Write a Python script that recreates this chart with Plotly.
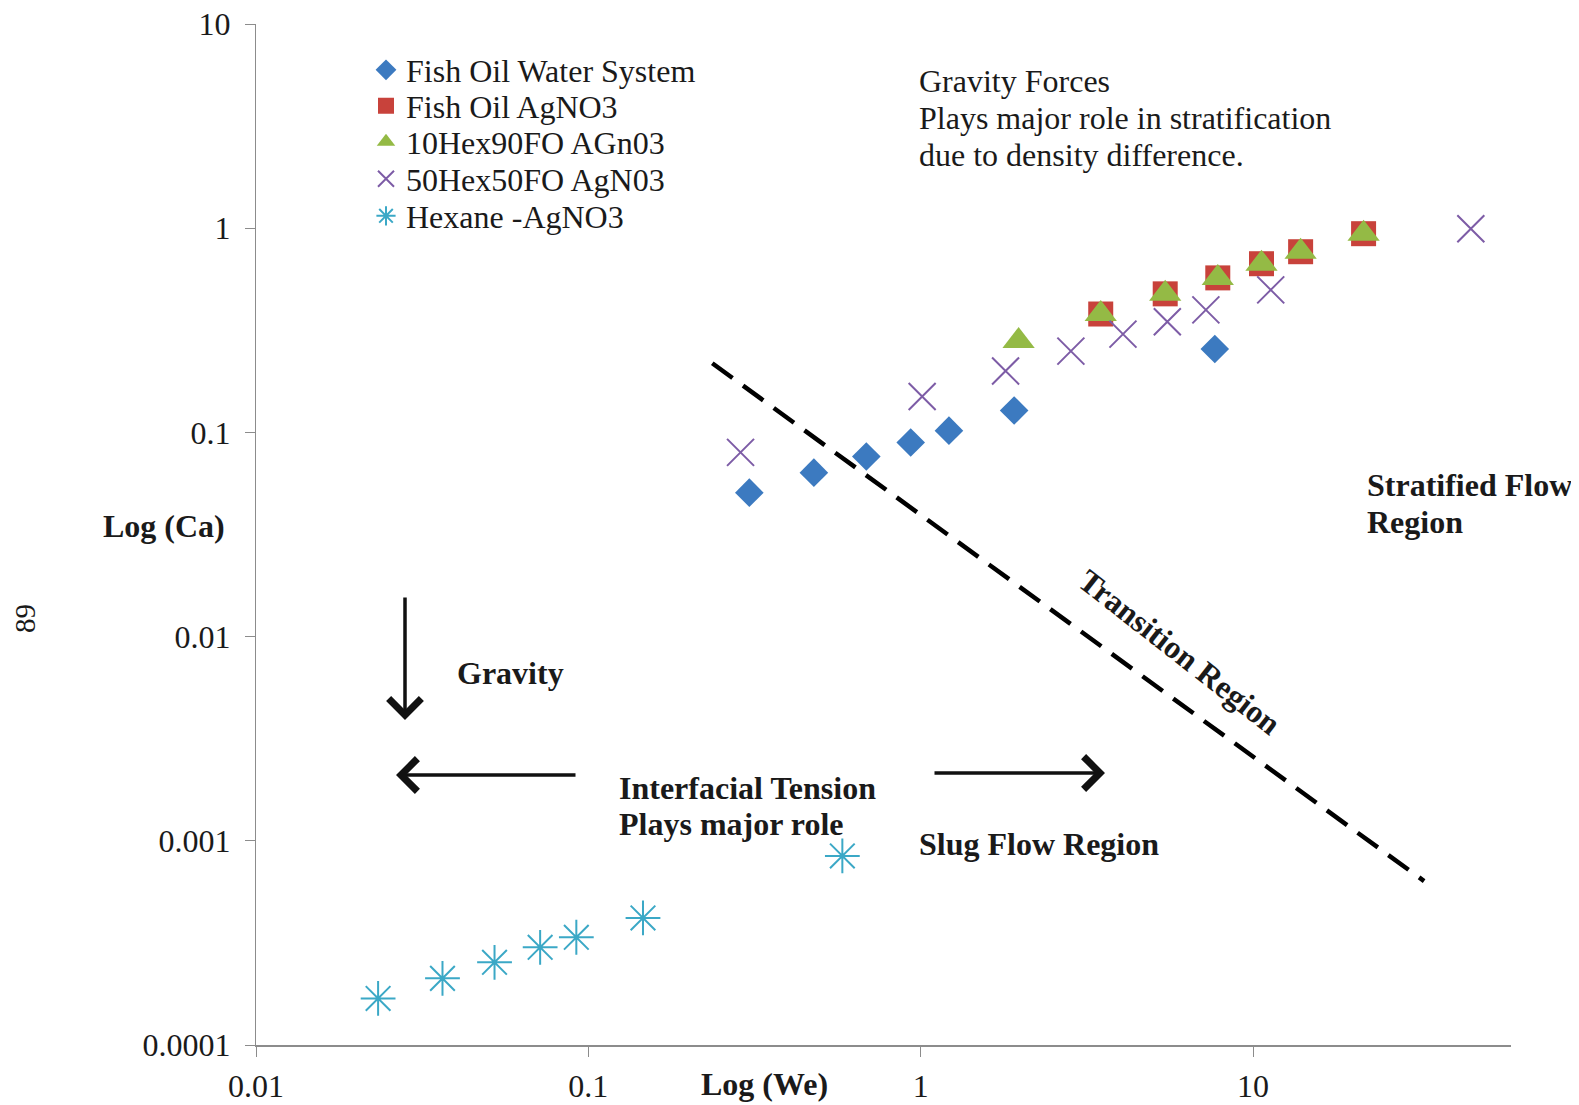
import numpy as np
import plotly.graph_objects as go

# ---------------- data ----------------
fish_water_we = [0.305, 0.477, 0.686, 0.933, 1.216, 1.91, 7.67]
fish_water_ca = [0.0507, 0.0635, 0.0762, 0.0893, 0.102, 0.128, 0.256]

fish_agno3_we = [3.48, 5.44, 7.83, 10.6, 13.9, 21.5]
fish_agno3_ca = [0.380, 0.477, 0.571, 0.670, 0.767, 0.940]

hex10_we = [1.97, 3.48, 5.44, 7.83, 10.6, 13.9, 21.5]
hex10_ca = [0.280, 0.380, 0.477, 0.571, 0.670, 0.767, 0.940]

hex50_we = [0.287, 1.01, 1.80, 2.83, 4.06, 5.52, 7.21, 11.3, 45.2]
hex50_ca = [0.0798, 0.150, 0.200, 0.250, 0.303, 0.348, 0.398, 0.499, 0.994]

hexane_we = [0.0233, 0.0364, 0.0522, 0.0716, 0.092, 0.146, 0.581]
hexane_ca = [0.000169, 0.000212, 0.000254, 0.000301, 0.000337, 0.000419, 0.000843]

boundary_we = [0.236, 32.7]
boundary_ca = [0.218, 0.000635]

series_names = ["Fish Oil Water System", "Fish Oil AgNO3", "10Hex90FO AGn03",
                "50Hex50FO AgN03", "Hexane -AgNO3"]

x_tickvals = [0.01, 0.1, 1, 10]
x_ticktext = ["0.01", "0.1", "1", "10"]
y_tickvals = [0.0001, 0.001, 0.01, 0.1, 1, 10]
y_ticktext = ["0.0001", "0.001", "0.01", "0.1", "1", "10"]

# ---------------- layout constants ----------------
OFF = 8                      # page body margin of the browser
WIN_W, WIN_H = 1579, 1105
W, H = WIN_W - OFF, WIN_H - OFF
PL, PT, PR, PB = 256, 24, 1511, 1045   # plot area in window pixels
ML, MT = PL - OFF, PT - OFF
MR, MB = W + OFF - PR, H + OFF - PB
PW, PH = PR - PL, PB - PT
FONT = "Liberation Serif, Times New Roman, serif"
TXT = "#1a1a1a"
FS = 32


def px(xp):
    return (xp - PL) / PW


def py(yp):
    return 1 - (yp - PT) / PH


fig = go.Figure()

fig.add_trace(go.Scatter(
    x=boundary_we, y=boundary_ca, mode="lines", showlegend=False,
    line=dict(color="black", width=4.5, dash="25px,13px"), hoverinfo="skip"))

fig.add_trace(go.Scatter(
    x=fish_water_we, y=fish_water_ca, mode="markers", name=series_names[0], legend="legend",
    marker=dict(symbol="diamond", size=22, color="#3C7AC0")))
fig.add_trace(go.Scatter(
    x=fish_agno3_we, y=fish_agno3_ca, mode="markers", name=series_names[1], legend="legend2",
    marker=dict(symbol="square", size=25, color="#C8423B")))
fig.add_trace(go.Scatter(
    x=hex10_we, y=hex10_ca, mode="markers", name=series_names[2], legend="legend3",
    marker=dict(symbol="triangle-up", size=28, color="#94BA45")))
fig.add_trace(go.Scatter(
    x=hex50_we, y=hex50_ca, mode="markers", name=series_names[3], legend="legend4",
    marker=dict(symbol="x-thin-open", size=27, color="#7D5CA6",
                line=dict(color="#7D5CA6", width=2))))
fig.add_trace(go.Scatter(
    x=hexane_we, y=hexane_ca, mode="markers", name=series_names[4], legend="legend5",
    marker=dict(symbol="asterisk-open", size=29, color="#3BA8C6",
                line=dict(color="#3BA8C6", width=2))))

annotations = []


def text(xp, yp, s, bold=False, angle=0, xanchor="left", size=FS):
    annotations.append(dict(
        xref="paper", yref="paper", x=px(xp), y=py(yp), text=("<b>%s</b>" % s) if bold else s,
        showarrow=False, xanchor=xanchor, yanchor="middle", textangle=angle,
        font=dict(family=FONT, size=size, color=TXT)))


text(917, 81, "Gravity Forces")
text(917, 118, "Plays major role in stratification")
text(917, 155, "due to density difference.")
text(1365, 485, "Stratified Flow", bold=True)
text(1365, 522, "Region", bold=True)
text(1180, 652, "Transition Region", bold=True, angle=38, xanchor="center")
text(455, 673, "Gravity", bold=True)
text(617, 788, "Interfacial Tension", bold=True)
text(617, 824, "Plays major role", bold=True)
text(917, 844, "Slug Flow Region", bold=True)
text(164, 526, "Log (Ca)", bold=True, xanchor="center")
text(764, 1084, "Log (We)", bold=True, xanchor="center")
text(25, 619, "89", angle=-90, xanchor="center", size=29)


def lx(xp):
    return -2 + (xp - PL) / PW * 3.776


def ly(yp):
    return 1 - (yp - PT) / PH * 5


def arrow(x0, y0, x1, y1):
    annotations.append(dict(
        xref="x", yref="y", axref="x", ayref="y",
        x=lx(x1), y=ly(y1), ax=lx(x0), ay=ly(y0), text="",
        showarrow=True, arrowhead=4, arrowsize=1.8, arrowwidth=3.5, arrowcolor="#111"))


arrow(405, 596, 405, 720)
arrow(577, 775, 396, 775)
arrow(933, 773, 1105, 773)

legend_rows = [70, 106, 142, 179, 216]
legends = {}
for i, yr in enumerate(legend_rows):
    key = "legend" if i == 0 else "legend%d" % (i + 1)
    legends[key] = dict(x=px(366), y=py(yr), xanchor="left", yanchor="middle",
                        font=dict(family=FONT, size=FS, color=TXT),
                        bgcolor="rgba(0,0,0,0)", itemwidth=30)

fig.update_layout(
    width=W, height=H,
    margin=dict(l=ML, r=MR, t=MT, b=MB, autoexpand=False),
    paper_bgcolor="white", plot_bgcolor="white",
    showlegend=True,
    annotations=annotations,
    **legends,
)

fig.update_xaxes(
    type="log", range=[-2, 1.776], tickvals=x_tickvals, ticktext=x_ticktext,
    showgrid=False, zeroline=False, showline=True, linecolor="#8c8c8c", linewidth=2,
    ticks="outside", ticklen=10, tickcolor="#8c8c8c", ticklabelstandoff=2,
    automargin=False, ticklabeloverflow="allow",
    tickfont=dict(family=FONT, size=FS, color=TXT))
fig.update_yaxes(
    type="log", range=[-4, 1], tickvals=y_tickvals, ticktext=y_ticktext,
    showgrid=False, zeroline=False, showline=True, linecolor="#8c8c8c", linewidth=1.2,
    ticks="outside", ticklen=10, tickcolor="#8c8c8c", ticklabelstandoff=8,
    automargin=False, ticklabeloverflow="allow",
    tickfont=dict(family=FONT, size=FS, color=TXT))

fig.write_html("out.html")
